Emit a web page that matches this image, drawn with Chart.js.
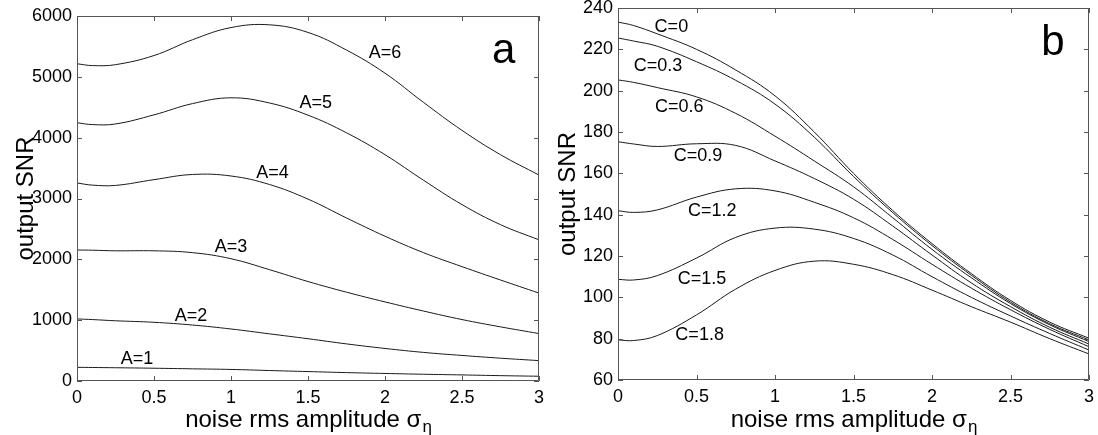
<!DOCTYPE html>
<html>
<head>
<meta charset="utf-8">
<script src="https://cdn.jsdelivr.net/npm/chart.js@4.4.1/dist/chart.umd.min.js"></script>
<style>
  html, body { margin: 0; padding: 0; background: #fff; }
  #wrap { position: relative; width: 1098px; height: 435px; }
  .panel { position: absolute; top: 0; width: 549px; height: 435px; }
</style>
</head>
<body>
<div id="wrap">
  <div class="panel" style="left:0"><canvas id="chartA"></canvas></div>
  <div class="panel" style="left:549px"><canvas id="chartB"></canvas></div>
</div>
<script>
// noise rms amplitude (x) shared by every curve
const sigma = [0, 0.1, 0.25, 0.5, 0.75, 1, 1.25, 1.5, 1.75, 2, 2.25, 2.5, 2.75, 3];

// panel a : output SNR for A = 1..6
const snrA1 = [225, 222, 218, 210, 200, 190, 172, 155, 138, 124, 111, 100, 88, 78];
const snrA2 = [1020, 1010, 990, 965, 920, 855, 775, 695, 610, 535, 470, 420, 375, 335];
const snrA3 = [2153, 2150, 2140, 2140, 2110, 2010, 1830, 1635, 1460, 1300, 1150, 1010, 890, 780];
const snrA4 = [3255, 3220, 3215, 3310, 3395, 3370, 3230, 2990, 2680, 2380, 2110, 1880, 1660, 1445];
const snrA5 = [4245, 4215, 4225, 4375, 4560, 4655, 4570, 4370, 4080, 3720, 3300, 2900, 2570, 2320];
const snrA6 = [5215, 5185, 5200, 5350, 5610, 5810, 5855, 5730, 5440, 5060, 4580, 4120, 3720, 3385];
const namesA = ["A=1", "A=2", "A=3", "A=4", "A=5", "A=6"];
const nameXA = [0.39, 0.74, 1.0, 1.27, 1.55, 2.0];
const nameYA = [362, 1068, 2203, 3419, 4570, 5392];

// panel b : output SNR for C = 0 .. 1.8
const snrC00 = [233.2, 231.5, 227.5, 220, 210, 197.5, 180, 160, 142, 126, 111.5, 98.5, 88, 80.2];
const snrC03 = [225.5, 224, 221.5, 214, 205, 193.5, 177.5, 158.5, 141, 125.1, 110.7, 97.7, 87.2, 79.4];
const snrC06 = [205.2, 204, 201.5, 197, 189, 178, 166, 153.5, 138.5, 123.2, 109.5, 97, 86.7, 78.6];
const snrC09 = [175.3, 174.2, 173, 174.3, 173.5, 166, 157.5, 147.5, 134.5, 120.5, 107, 95.5, 85.5, 77.4];
const snrC12 = [141.9, 141.1, 142.3, 148.5, 152.5, 151.5, 146, 138.5, 128, 116, 104.5, 94, 84.5, 76.1];
const snrC15 = [108.7, 108.4, 110.5, 119, 129, 133.5, 133, 128.5, 120.5, 110, 100, 91, 82.5, 74.5];
const snrC18 = [79.4, 79.1, 81.5, 91.5, 104, 113, 117.5, 116, 111, 103.5, 95.5, 88, 80, 72.6];
const namesB = ["C=0", "C=0.3", "C=0.6", "C=0.9", "C=1.2", "C=1.5", "C=1.8"];
const nameXB = [0.34, 0.255, 0.39, 0.51, 0.6, 0.535, 0.52];
const nameYB = [230.6, 212, 192.3, 168.4, 141.8, 108.9, 81.8];

const xTicks = [0, 0.5, 1, 1.5, 2, 2.5, 3];
const yTicksA = [0, 1000, 2000, 3000, 4000, 5000, 6000];
const yTicksB = [60, 80, 100, 120, 140, 160, 180, 200, 220, 240];

const FONT = '"Liberation Sans", Arial, Helvetica, sans-serif';
Chart.defaults.font.family = FONT;
Chart.defaults.color = "#000";

// matlab-like box with inward ticks on all four sides
const frame = {
  id: "frame",
  afterDatasetsDraw(chart) {
    const { ctx, chartArea: a, scales: { x, y } } = chart;
    ctx.save();
    ctx.strokeStyle = "#555";
    ctx.lineWidth = 1;
    ctx.beginPath();
    ctx.rect(a.left + 0.5, a.top + 0.5, a.right - a.left - 1, a.bottom - a.top - 1);
    const L = 5;
    x.ticks.forEach((t) => {
      const px = Math.round(x.getPixelForValue(t.value)) + 0.5;
      ctx.moveTo(px, a.bottom); ctx.lineTo(px, a.bottom - L);
      ctx.moveTo(px, a.top); ctx.lineTo(px, a.top + L);
    });
    y.ticks.forEach((t) => {
      const py = Math.round(y.getPixelForValue(t.value)) + 0.5;
      ctx.moveTo(a.left, py); ctx.lineTo(a.left + L, py);
      ctx.moveTo(a.right, py); ctx.lineTo(a.right - L, py);
    });
    ctx.stroke();
    ctx.restore();
  },
};

// curve names, panel letter and axis titles
const annotate = {
  id: "annotate",
  afterDatasetsDraw(chart, args, o) {
    const { ctx, chartArea: a, scales: { x, y } } = chart;
    ctx.save();
    ctx.fillStyle = "#000";
    ctx.font = "18px " + FONT;
    ctx.textAlign = "center";
    ctx.textBaseline = "middle";
    o.names.forEach((t, i) => {
      ctx.fillText(t, x.getPixelForValue(o.xs[i]), y.getPixelForValue(o.ys[i]));
    });

    ctx.textBaseline = "alphabetic";
    ctx.font = "42px " + FONT;
    ctx.fillText(o.letter, x.getPixelForValue(2.77), a.top + o.letterDy);

    // x title with subscript eta
    const main = "noise rms amplitude σ", sub = "η";
    ctx.font = "24px " + FONT;
    const w1 = ctx.measureText(main).width;
    ctx.font = "17px " + FONT;
    const w2 = ctx.measureText(sub).width;
    const x0 = (a.left + a.right) / 2 - (w1 + w2) / 2;
    ctx.textAlign = "left";
    ctx.font = "24px " + FONT;
    ctx.fillText(main, x0, 427);
    ctx.font = "17px " + FONT;
    ctx.fillText(sub, x0 + w1 + 1, 432);

    // y title
    ctx.translate(o.yTitleX, (a.top + a.bottom) / 2);
    ctx.rotate(-Math.PI / 2);
    ctx.textAlign = "center";
    ctx.font = "24px " + FONT;
    ctx.fillText("output SNR", 0, 0);
    ctx.restore();
  },
};

function makeChart(id, curves, yMin, yMax, yTicks, pad, yWidth, xHeight, labelOpts) {
  return new Chart(document.getElementById(id), {
    type: "line",
    data: {
      datasets: curves.map((c) => ({
        data: sigma.map((s, i) => ({ x: s, y: c[i] })),
        borderColor: "#1a1a1a",
        borderWidth: 1,
        pointRadius: 0,
        tension: 0.4,
        fill: false,
      })),
    },
    options: {
      responsive: true,
      maintainAspectRatio: false,
      animation: false,
      layout: { padding: pad },
      plugins: { legend: { display: false }, tooltip: { enabled: false }, annotate: labelOpts },
      scales: {
        x: {
          type: "linear",
          min: 0,
          max: 3,
          grid: { display: false, drawTicks: false },
          border: { display: false },
          afterBuildTicks: (s) => { s.ticks = xTicks.map((v) => ({ value: v })); },
          ticks: { font: { size: 18 }, padding: 6, maxRotation: 0, autoSkip: false, callback: (v) => String(v) },
          afterFit: (s) => { s.height = xHeight; s.paddingLeft = 0; s.paddingRight = 0; },
        },
        y: {
          type: "linear",
          min: yMin,
          max: yMax,
          grid: { display: false, drawTicks: false },
          border: { display: false },
          afterBuildTicks: (s) => { s.ticks = yTicks.map((v) => ({ value: v })); },
          ticks: { font: { size: 18 }, padding: 5, autoSkip: false, callback: (v) => String(v) },
          afterFit: (s) => { s.width = yWidth; s.paddingTop = 0; s.paddingBottom = 0; },
        },
      },
    },
    plugins: [frame, annotate],
  });
}

makeChart("chartA", [snrA1, snrA2, snrA3, snrA4, snrA5, snrA6], 0, 6000, yTicksA,
  { left: 0, right: 10, top: 16, bottom: 0 }, 77, 54,
  { names: namesA, xs: nameXA, ys: nameYA, letter: "a", letterDy: 47, yTitleX: 33 });

makeChart("chartB", [snrC00, snrC03, snrC06, snrC09, snrC12, snrC15, snrC18], 60, 240, yTicksB,
  { left: 0, right: 9, top: 8, bottom: 0 }, 69, 55,
  { names: namesB, xs: nameXB, ys: nameYB, letter: "b", letterDy: 47, yTitleX: 26 });
</script>
</body>
</html>
